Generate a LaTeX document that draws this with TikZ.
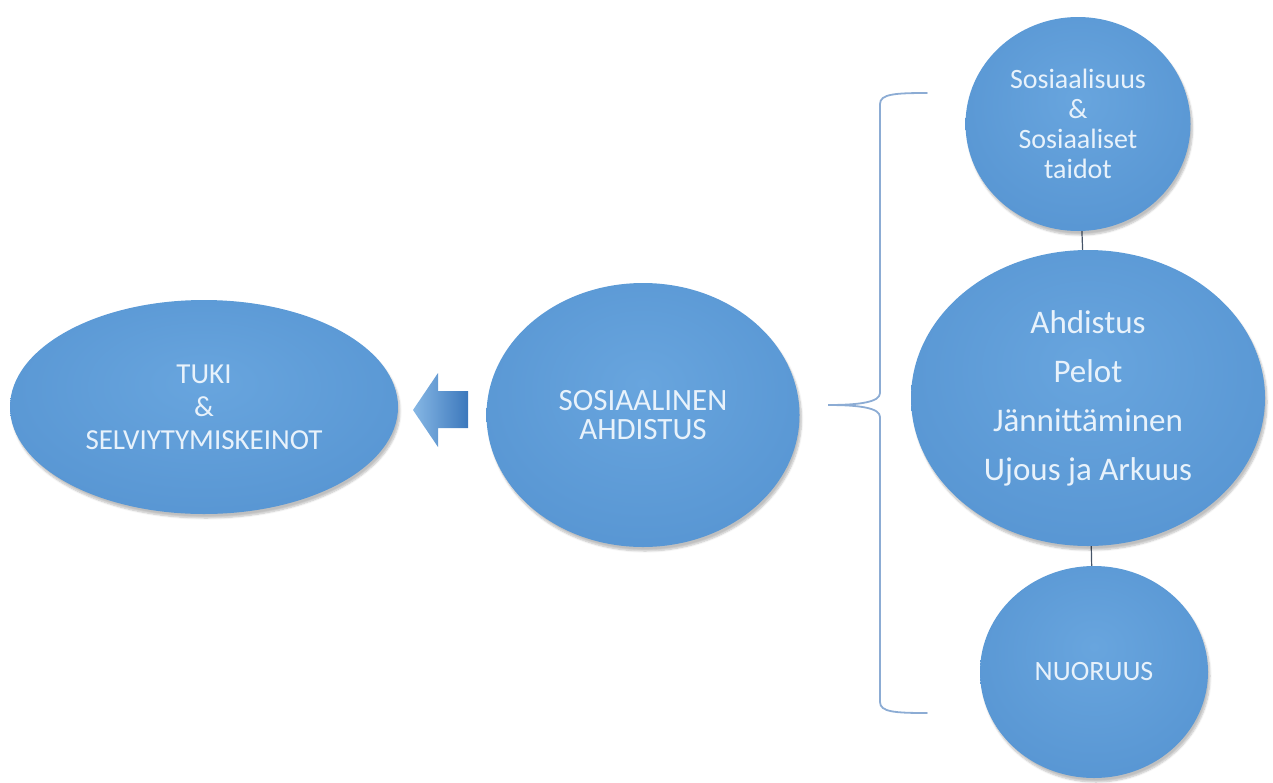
\documentclass[tikz,border=0pt]{standalone}
\usepackage{fontspec}
\setmainfont{Carlito}
\usetikzlibrary{shapes.geometric,shadows.blur,backgrounds}
\definecolor{lb}{RGB}{104,165,222}
\definecolor{mb}{RGB}{88,150,211}
\definecolor{db}{RGB}{60,120,188}
\definecolor{txt}{RGB}{232,242,251}
\definecolor{brc}{RGB}{140,172,212}
\definecolor{lnk}{RGB}{70,85,105}
\pgfdeclareradialshading{bubble}{\pgfpoint{0bp}{6bp}}{color(0bp)=(lb); color(30bp)=(mb); color(46bp)=(mb); color(50bp)=(db); color(75bp)=(db)}
\tikzset{
  bubble/.style={ellipse, inner sep=0pt, shading=bubble, align=center, text=txt,
    blur shadow={shadow xshift=2pt, shadow yshift=-4pt, shadow opacity=25, shadow blur steps=6}},
  link/.style={draw=lnk, line width=1.2pt},
  bracestyle/.style={draw=brc, line width=1.8pt, line cap=round}
}
\begin{document}
\begin{tikzpicture}[x=1pt,y=-1pt]
\useasboundingbox (0,0) rectangle (1273,782);
\node[bubble, minimum width=388pt, minimum height=214pt, font=\fontsize{29}{33}\selectfont] (tuki) at (204,407) {TUKI\\\&\\SELVIYTYMISKEINOT};
\node[bubble, minimum width=313pt, minimum height=264pt, font=\fontsize{31}{29}\selectfont] (sos) at (643,415) {SOSIAALINEN\\AHDISTUS};
\node[bubble, minimum width=225pt, minimum height=214pt, font=\fontsize{28}{30}\selectfont] (top) at (1078,124) {Sosiaalisuus\\\&\\Sosiaaliset\\taidot};
\node[bubble, minimum width=354pt, minimum height=296pt, font=\fontsize{33}{49}\selectfont] (big) at (1088,398) {Ahdistus\\Pelot\\Jännittäminen\\Ujous ja Arkuus};
\node[bubble, minimum width=228pt, minimum height=212pt, font=\fontsize{28}{30}\selectfont] (bot) at (1094,672) {NUORUUS};
\begin{scope}[on background layer]
\draw[link] (top) -- (big);
\draw[link] (big) -- (bot);
\end{scope}
% block arrow from SOSIAALINEN AHDISTUS to TUKI
\shade[left color=lb!80!white, right color=db] (413,410) -- (438,373) -- (438,391) -- (468,391) -- (468,428) -- (438,428) -- (438,447) -- cycle;
% brace
\coordinate (bt) at (828,405);
\draw[bracestyle] (927,93) .. controls (895,93) and (880,94) .. (880,104)
  -- (880,393) .. controls (880,402) and (860,405) .. (bt)
  .. controls (860,405) and (880,408) .. (880,417)
  -- (880,702) .. controls (880,712) and (895,713) .. (927,713);
\end{tikzpicture}
\end{document}
